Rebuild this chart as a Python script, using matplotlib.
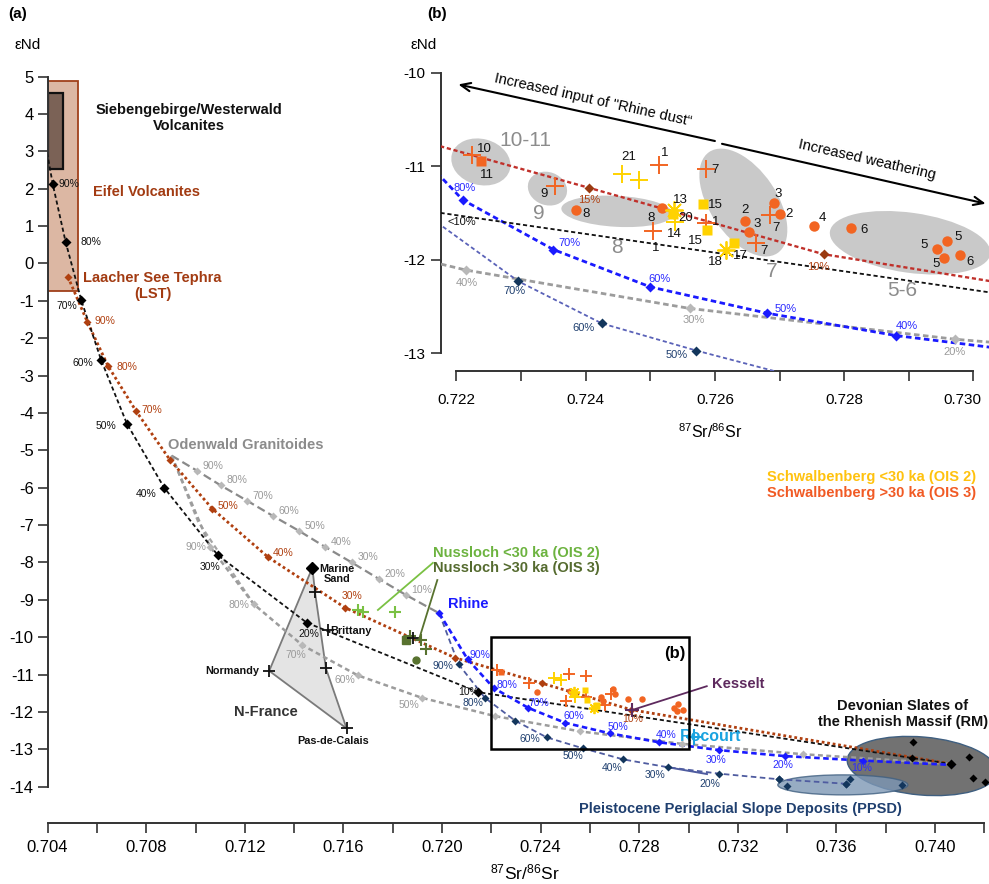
import matplotlib
matplotlib.use('Agg')
from matplotlib import pyplot as plt
from matplotlib.patches import Ellipse, Rectangle, Polygon
from matplotlib.transforms import IdentityTransform, ScaledTranslation
from matplotlib.ticker import MultipleLocator

plt.rcParams['font.family'] = ['Liberation Sans', 'DejaVu Sans']
plt.rcParams['mathtext.default'] = 'regular'
plt.rcParams['axes.unicode_minus'] = False
plt.rcParams['lines.scale_dashes'] = False
NARROW = ['Liberation Sans Narrow', 'Liberation Sans', 'DejaVu Sans']

# ---- mixing lines (end member -> end member, 10 % steps) ----
pct = ['', '90%', '80%', '70%', '60%', '50%', '40%', '30%', '20%', '10%', '']

# Siebengebirge -> RM
black_x = [0.70398, 0.70421, 0.70473, 0.70537, 0.70617, 0.70722, 0.70873,
           0.71090, 0.71451, 0.72147, 0.74066]
black_y = [2.96, 2.12, 0.58, -0.99, -2.58, -4.29, -6.00, -7.80, -9.61, -11.47, -13.39]
# LST -> RM
orange_x = [0.70482, 0.70561, 0.70645, 0.70759, 0.70897, 0.71068, 0.71295,
            0.71607, 0.72053, 0.72405, 0.72768, 0.74066]
orange_y = [-0.35, -1.56, -2.74, -3.95, -5.26, -6.56, -7.86, -9.21, -10.55,
            -11.23, -11.94, -13.39]
orange_pct = ['', '90%', '80%', '70%', '60%', '50%', '40%', '30%', '20%', '15%', '10%', '']
# Odenwald -> Rhine
grayA_x = [0.70903, 0.71005, 0.71103, 0.71210, 0.71313, 0.71419, 0.71525,
           0.71634, 0.71744, 0.71854, 0.71989]
grayA_y = [-5.14, -5.54, -5.94, -6.35, -6.75, -7.15, -7.58, -8.00, -8.44, -8.87, -9.36]
# Odenwald -> RM
grayB_x = [0.70903, 0.71059, 0.71237, 0.71433, 0.71658, 0.71918, 0.72215,
           0.72561, 0.72972, 0.73466, 0.74066]
grayB_y = [-5.14, -7.58, -9.12, -10.21, -11.02, -11.62, -12.11, -12.52, -12.85,
           -13.13, -13.39]
grayC_x = [0.70903, 0.71010, 0.71237]
grayC_y = [-5.14, -6.90, -9.12]
# Rhine -> RM
blue_x = [0.71989, 0.72104, 0.72210, 0.72350, 0.72500, 0.72680, 0.72880,
          0.73125, 0.73392, 0.73707, 0.74080]
blue_y = [-9.36, -10.59, -11.36, -11.89, -12.29, -12.57, -12.81, -13.02, -13.18,
          -13.30, -13.42]
# Rhine -> PPSD
navy_x = [0.71989, 0.72067, 0.72174, 0.72296, 0.72425, 0.72571, 0.72736,
          0.72918, 0.73125, 0.73366, 0.73639]
navy_y = [-9.36, -10.72, -11.62, -12.23, -12.68, -12.97, -13.27, -13.48, -13.65,
          -13.80, -13.92]
navy_pct = ['', '90%', '80%', '70%', '60%', '50%', '40%', '30%', '20%', '', '']

# ---- end members / source areas ----
rm_x = [0.73912, 0.73906, 0.74137, 0.74155, 0.74202]
rm_y = [-12.80, -13.24, -13.21, -13.77, -13.88]
ppsd_x = [0.73366, 0.73398, 0.73639, 0.73655, 0.73865]
ppsd_y = [-13.80, -13.97, -13.92, -13.80, -13.96]
nfrance_x = [0.71474, 0.71299, 0.71613, 0.71529, 0.71485]
nfrance_y = [-8.14, -10.90, -12.44, -10.83, -8.80]
nf_cross_x = [0.71485, 0.71536, 0.71299, 0.71529, 0.71613]
nf_cross_y = [-8.80, -9.81, -10.90, -10.83, -12.44]
kesselt = (0.72770, -11.95)
rocourt = (0.73022, -12.66)

# Nussloch loess
nus2_x = [0.71658, 0.71681, 0.71809]
nus2_y = [-9.27, -9.32, -9.32]
nus3_cross_x = [0.71870, 0.71914, 0.71935]
nus3_cross_y = [-9.97, -10.07, -10.32]
nus3_sq = (0.71854, -10.07)
nus3_dot = (0.71893, -10.61)
nus_black = (0.71884, -10.03)

# Schwalbenberg (OIS 3, orange) and (OIS 2, yellow)
o_cross_x = [0.72224, 0.72352, 0.72514, 0.72586, 0.72505, 0.72586, 0.72686, 0.72663]
o_cross_y = [-10.875, -11.214, -10.989, -11.032, -11.696, -11.607, -11.525, -11.821]
o_dot_x = [0.72385, 0.72518, 0.72647, 0.72653, 0.72692, 0.72700, 0.72754, 0.72810,
           0.72959, 0.72943, 0.72955, 0.72979]
o_dot_y = [-11.464, -11.446, -11.586, -11.700, -11.389, -11.507, -11.643, -11.661,
           -11.796, -11.882, -11.979, -11.954]
o_sq_x = [0.72238]
o_sq_y = [-10.943]
y_cross_x = [0.72456, 0.72482, 0.72538]
y_cross_y = [-11.086, -11.143, -11.596]
y_sq_x = [0.72582, 0.72588, 0.72535, 0.72629]
y_sq_y = [-11.407, -11.686, -11.507, -11.818]
y_star_x = [0.72536, 0.72617]
y_star_y = [-11.464, -11.900]

# sample numbers in (b)
num_txt = ['10', '11', '9', '8', '21', '1', '13', '20', '8', '14', '1', '15', '15', '1',
           '7', '18', '17', '2', '3', '3', '2', '7', '7', '4', '6', '5', '5', '5', '6']
num_x = [0.72243, 0.72248, 0.72335, 0.72400, 0.72467, 0.72523, 0.72547, 0.72555,
         0.72501, 0.72538, 0.72509, 0.72570, 0.72601, 0.72601, 0.72600, 0.72600,
         0.72639, 0.72646, 0.72665, 0.72698, 0.72714, 0.72695, 0.72676, 0.72766,
         0.72830, 0.72924, 0.72976, 0.72942, 0.72995]
num_y = [-10.811, -11.096, -11.300, -11.514, -10.900, -10.857, -11.364, -11.554,
         -11.550, -11.729, -11.871, -11.804, -11.411, -11.596, -11.043, -12.025,
         -11.964, -11.471, -11.614, -11.300, -11.507, -11.657, -11.907, -11.550,
         -11.679, -11.846, -11.757, -12.050, -12.025]

# grey groups in (b): label, centre, size/angle in pixels
grp_txt = ['10-11', '9', '8', '7', '5-6']
grp_x = [0.72307, 0.72328, 0.72448, 0.72688, 0.72889]
grp_y = [-10.72, -11.50, -11.867, -12.128, -12.324]
blob_x = [0.72238, 0.72341, 0.72449, 0.72644, 0.72902]
blob_y = [-10.954, -11.239, -11.482, -11.388, -11.818]
blob_w = [60, 40, 112, 122, 162]
blob_h = [46, 33, 31, 67, 60]
blob_a = [-15, -20, -3, -56, -8]

OR = '#f26522'
YE = '#ffd200'
BROWN = '#b04010'


def blob(ax, x, y, w, h, ang, **kw):
    tr = IdentityTransform() + ScaledTranslation(x, y, ax.transData)
    e = Ellipse((0, 0), w, h, angle=ang, transform=tr, **kw)
    ax.add_patch(e)
    return e


def mix(ax, xs, ys, names, color, dash, lw, mcolor, ms, marks, offs, tcolor, fs, z=3):
    ax.plot(xs, ys, color=color, ls=(0, dash), lw=lw, zorder=z)
    ax.plot([xs[i] for i in marks], [ys[i] for i in marks], ls='none', marker='D',
            ms=ms, color=mcolor, mec='none', zorder=z + 0.5)
    for i, (dx, dy) in offs.items():
        ax.annotate(names[i], (xs[i], ys[i]), xytext=(dx, dy), textcoords='offset pixels',
                    ha='center', va='center', fontsize=fs, color=tcolor, zorder=z + 1)


def samples(ax, big):
    k = 1.0 if big else 0.62
    z = 7
    ax.plot(o_dot_x, o_dot_y, 'o', color=OR, ms=7.5 * k, mec='none', zorder=z)
    ax.plot(o_sq_x, o_sq_y, 's', color=OR, ms=7.5 * k, mec='none', zorder=z)
    ax.plot(o_cross_x, o_cross_y, '+', color=OR, ms=13 * k, mew=1.4, zorder=z)
    ax.plot(y_sq_x, y_sq_y, 's', color=YE, ms=7.5 * k, mec='none', zorder=z)
    ax.plot(y_cross_x, y_cross_y, '+', color=YE, ms=13 * k, mew=1.4, zorder=z)
    ax.plot(y_star_x, y_star_y, marker=(8, 2, 0), ls='none', color=YE, ms=13 * k,
            mew=1.3, zorder=z)


fig = plt.figure(figsize=(9.89, 8.84), dpi=100)

# ================= (a) main diagram =================
ax = fig.add_axes([0.04813, 0.0690, 0.95187, 0.84434])
ax.set_xlim(0.704, 0.74219)
ax.set_ylim(-14.97, 5.0)
ax.set_facecolor('none')
for s in ('top', 'right'):
    ax.spines[s].set_visible(False)
for s in ('left', 'bottom'):
    ax.spines[s].set_linewidth(1.4)
    ax.spines[s].set_color('#333333')
ax.spines['left'].set_bounds(-14, 5)
ax.spines['bottom'].set_bounds(0.704, 0.742)
ax.set_yticks(range(-14, 6))
xt = [0.704 + 0.004 * i for i in range(10)]
ax.set_xticks(xt)
ax.set_xticklabels([f'{v:.3f}' for v in xt])
ax.xaxis.set_minor_locator(MultipleLocator(0.002))
ax.tick_params(which='both', direction='out', length=7, width=1.2, color='#333333')
ax.tick_params(axis='x', pad=5)
ax.tick_params(axis='y', pad=3)
for lab in ax.get_xticklabels() + ax.get_yticklabels():
    lab.set_fontfamily(NARROW)
    lab.set_fontsize(12)

# source boxes
ax.add_patch(Rectangle((0.704, -0.73), 0.00125, 5.60, fc='#dcb7a3', ec='#a0401a',
                       lw=1.3, zorder=1))
ax.add_patch(Rectangle((0.704, 2.52), 0.00064, 2.04, fc='#7b6256', ec='#111111',
                       lw=1.6, zorder=1.2))
ax.add_patch(Polygon(list(zip(nfrance_x, nfrance_y)), closed=True, fc='#e4e4e4',
                     ec='#7a7a7a', lw=1.3, zorder=1))
blob(ax, 0.73947, -13.445, 150, 58, -5, fc='#727272', ec='#3f5f80', lw=1.0,
     zorder=1.5, clip_on=False)
blob(ax, 0.73626, -13.95, 130, 20, 0, fc='#7d97b5', ec='#3f5f80', lw=1.0, alpha=0.8,
     zorder=1.6)

# mixing lines
ax.plot(grayC_x, grayC_y, color='#a5a5a5', ls=(0, (3.5, 2.5)), lw=1.6, zorder=2.8)
mix(ax, grayA_x, grayA_y, pct, '#8a8a8a', (6, 3), 1.6, '#b8b8b8', 4.5, range(1, 10),
    {i: (16, 5) for i in range(1, 10)}, '#9a9a9a', 7.5)
mix(ax, grayB_x, grayB_y, pct, '#9c9c9c', (3.5, 2.5), 1.8, '#b8b8b8', 4.5, range(1, 10),
    {1: (-14, 0), 2: (-15, -1), 3: (-6, -10), 4: (-13, -5), 5: (-13, -7)},
    '#9a9a9a', 7.5)
mix(ax, orange_x, orange_y, orange_pct, BROWN, (2, 2), 2.0, BROWN, 4.5, range(0, 11),
    {1: (18, 1), 2: (19, -1), 3: (16, 1), 5: (16, 3), 6: (15, 4), 7: (7, 12),
     10: (1, -9)}, BROWN, 7.5)
mix(ax, black_x, black_y, pct, '#111111', (3, 2), 1.3, '#000000', 5.5, range(1, 11),
    {1: (16, 0), 2: (25, 0), 3: (-15, -6), 4: (-18, -3), 5: (-21, -2), 6: (-18, -6),
     7: (-8, -12), 8: (2, -11), 9: (-10, 0)}, '#111111', 7.5)
mix(ax, navy_x, navy_y, navy_pct, '#4f5ca0', (4, 2.5), 1.3, '#13365c', 4.5, range(1, 11),
    {1: (-16, -2), 2: (-12, -5), 4: (-17, -2), 5: (-10, -8), 6: (-11, -9),
     7: (-13, -8), 8: (-9, -10)}, '#1f3f6f', 7.5)
ax.plot([navy_x[7], 0.73075], [navy_y[7], -13.66], color='#4f5ca0', lw=1.4, zorder=3)
mix(ax, blue_x, blue_y, pct, '#1a1aff', (4, 2.5), 1.9, '#1a1aff', 4.5, range(0, 10),
    {1: (12, 4), 2: (13, 3), 3: (11, 5), 4: (9, 7), 5: (8, 6), 6: (7, 7),
     7: (-3, -10), 8: (-2, -9), 9: (-1, -7)}, '#2a2aff', 7.5)
ax.plot(ppsd_x, ppsd_y, 'D', color='#13365c', ms=4.5, mec='none', zorder=4)
ax.plot(rm_x, rm_y, 'D', color='black', ms=4.5, mec='none', zorder=4, clip_on=False)

# N-France and loess samples
ax.plot(nfrance_x[0], nfrance_y[0], 'D', color='black', ms=6, zorder=5)
ax.plot(nf_cross_x, nf_cross_y, '+', color='#111111', ms=9, mew=1.3, zorder=5)
ax.plot(nus2_x, nus2_y, '+', color='#7ac143', ms=9, mew=1.5, zorder=5)
ax.plot(nus3_cross_x, nus3_cross_y, '+', color='#58722f', ms=9, mew=1.5, zorder=5)
ax.plot(*nus3_sq, 's', color='#58722f', ms=6, zorder=5)
ax.plot(*nus3_dot, 'o', color='#58722f', ms=5, zorder=5)
ax.plot(*nus_black, '+', color='#111111', ms=9, mew=1.3, zorder=5)
ax.plot([0.71740, 0.71963], [-9.27, -8.01], color='#7ac143', lw=1.3, zorder=5)
ax.plot([0.71981, 0.71908], [-8.47, -10.03], color='#58722f', lw=1.3, zorder=5)
ax.plot(*kesselt, '+', color='#5e2a5e', ms=10, mew=1.5, zorder=6)
ax.plot([kesselt[0], 0.73074], [kesselt[1], -11.31], color='#5e2a5e', lw=1.3, zorder=6)
ax.plot(*rocourt, '+', color='#1aa3e0', ms=11, mew=1.5, zorder=6)
samples(ax, False)
ax.add_patch(Rectangle((0.722, -13.0), 0.008, 3.0, fill=False, ec='black', lw=1.8,
                       zorder=6))

bold = dict(fontweight='bold', fontsize=10.5)
ax.text(0.70974, 3.90, 'Siebengebirge/Westerwald\nVolcanites', ha='center', va='center',
        color='#111111', **bold)
ax.text(0.70583, 1.92, 'Eifel Volcanites', ha='left', va='center', color='#a23b12', **bold)
ax.text(0.70826, -0.595, 'Laacher See Tephra\n(LST)', ha='center', va='center',
        color='#a23b12', **bold)
ax.text(0.70889, -4.86, 'Odenwald Granitoides', ha='left', va='center', color='#8c8c8c',
        **bold)
small = dict(fontweight='bold', fontsize=7.8, color='#111111', va='center')
ax.text(0.71574, -8.31, 'Marine\nSand', ha='center', linespacing=0.95, **small)
ax.text(0.71546, -9.82, 'Brittany', ha='left', **small)
ax.text(0.71258, -10.90, 'Normandy', ha='right', **small)
ax.text(0.71557, -12.78, 'Pas-de-Calais', ha='center', **small)
ax.text(0.71287, -11.99, 'N-France', ha='center', va='center', color='#333333', **bold)
ax.text(0.71964, -7.75, 'Nussloch <30 ka (OIS 2)', ha='left', va='center',
        color='#6cb33f', **bold)
ax.text(0.71964, -8.155, 'Nussloch >30 ka (OIS 3)', ha='left', va='center',
        color='#556b2f', **bold)
ax.text(0.72024, -9.12, 'Rhine', ha='left', va='center', color='#1a1aff', **bold)
ax.text(0.72946, -10.43, '(b)', ha='center', va='center', fontweight='bold', fontsize=12)
ax.text(0.73097, -11.25, 'Kesselt', ha='left', va='center', color='#5e2a5e', **bold)
ax.text(0.72965, -12.66, 'Rocourt', ha='left', va='center', color='#1aa3e0',
        fontsize=11.5, fontweight='bold')
ax.text(0.73870, -12.05, 'Devonian Slates of\nthe Rhenish Massif (RM)', ha='center',
        va='center', color='#111111', **bold)
ax.text(0.73209, -14.60, 'Pleistocene Periglacial Slope Deposits (PPSD)', ha='center',
        va='center', color='#1f3f6f', **bold)

# ================= (b) inset =================
ax2 = fig.add_axes([0.4457, 0.58032, 0.5543, 0.36312])
ax2.set_xlim(0.72176, 0.73024)
ax2.set_ylim(-13.189, -9.757)
ax2.set_facecolor('none')
for s in ('top', 'right'):
    ax2.spines[s].set_visible(False)
for s in ('left', 'bottom'):
    ax2.spines[s].set_linewidth(1.4)
    ax2.spines[s].set_color('#333333')
ax2.spines['left'].set_bounds(-13, -10)
ax2.spines['bottom'].set_bounds(0.722, 0.730)
ax2.set_yticks([-13, -12, -11, -10])
ax2.set_yticklabels(['-13', '-12', '-11', '-10'])
xt2 = [0.722, 0.724, 0.726, 0.728, 0.730]
ax2.set_xticks(xt2)
ax2.set_xticklabels([f'{v:.3f}' for v in xt2])
ax2.xaxis.set_minor_locator(MultipleLocator(0.001))
ax2.tick_params(which='both', direction='out', length=7.5, width=1.2, color='#333333',
                labelsize=11)
ax2.tick_params(axis='x', pad=8)
# last label sits a little left of its tick so it stays inside the figure
last = ax2.get_xticklabels()[-1]
last.set_transform(last.get_transform() + ScaledTranslation(-8 / 72, 0,
                                                            fig.dpi_scale_trans))

for i in range(len(blob_x)):
    blob(ax2, blob_x[i], blob_y[i], blob_w[i], blob_h[i], blob_a[i], fc='#c9c9c9',
         ec='none', zorder=1, clip_on=False)
    ax2.text(grp_x[i], grp_y[i], grp_txt[i], ha='center', va='center', fontsize=15,
             color='#8c8c8c', zorder=1.5)

mix(ax2, grayB_x, grayB_y, pct, '#9c9c9c', (4, 2.5), 2.0, '#b8b8b8', 5, [6, 7, 8],
    {6: (1, -13), 7: (4, -12), 8: (-1, -13)}, '#9a9a9a', 8)
mix(ax2, navy_x, navy_y, navy_pct, '#5a62b8', (3, 2), 1.3, '#13365c', 5, [3, 4, 5, 6],
    {3: (-4, -10), 4: (-18, -5), 5: (-19, -4)}, '#1f3f6f', 8)
mix(ax2, blue_x, blue_y, pct, '#1a1aff', (4, 2.5), 2.0, '#1a1aff', 5, [2, 3, 4, 5, 6],
    {2: (2, 12), 3: (16, 7), 4: (9, 8), 5: (19, 4), 6: (11, 10)}, '#2a2aff', 8)
mix(ax2, black_x, black_y, pct, '#111111', (3, 2), 1.3, 'black', 5, [], {}, 'black', 8)
mix(ax2, orange_x, orange_y, orange_pct, '#c0302a', (3, 2), 1.7, '#9a3a10', 5, [9, 10],
    {9: (0, -12), 10: (-5, -13)}, BROWN, 8)
ax2.text(0.72208, -11.596, '<10%', ha='center', va='center', fontsize=8, color='#111111')

samples(ax2, True)
for t, x, y in zip(num_txt, num_x, num_y):
    ax2.text(x, y, t, ha='center', va='center', fontsize=9.5, color='#111111', zorder=8)

arrow = dict(arrowstyle='->,head_length=0.7,head_width=0.3', color='black', lw=1.5,
             shrinkA=0, shrinkB=0)
ax2.annotate('', xy=(0.72203, -10.125), xytext=(0.72600, -10.73), arrowprops=arrow,
             annotation_clip=False)
ax2.annotate('', xy=(0.73019, -11.40), xytext=(0.72611, -10.76), arrowprops=arrow,
             annotation_clip=False)
ax2.text(0.72411, -10.29, 'Increased input of "Rhine dust\u201c', rotation=-12.5,
         ha='center', va='center', fontsize=10.5, rotation_mode='anchor')
ax2.text(0.72836, -10.934, 'Increased weathering', rotation=-12.8, ha='center',
         va='center', fontsize=10.5, rotation_mode='anchor')

# ================= figure texts =================
fig.text(0.0182, 0.984, '(a)', ha='center', va='center', fontweight='bold', fontsize=11)
fig.text(0.4419, 0.984, '(b)', ha='center', va='center', fontweight='bold', fontsize=11)
fig.text(0.0283, 0.949, '\u03b5Nd', ha='center', va='center', fontsize=11)
fig.text(0.4287, 0.949, '\u03b5Nd', ha='center', va='center', fontsize=11)
fig.text(0.531, 0.013, r'$^{87}$Sr/$^{86}$Sr', ha='center', va='center', fontsize=12.5,
         family=NARROW)
fig.text(0.7179, 0.5113, r'$^{87}$Sr/$^{86}$Sr', ha='center', va='center', fontsize=11.5)
fig.text(0.7755, 1 - 477 / 884, 'Schwalbenberg <30 ka (OIS 2)', ha='left', va='center',
         color='#ffc20e', **bold)
fig.text(0.7755, 1 - 493 / 884, 'Schwalbenberg >30 ka (OIS 3)', ha='left', va='center',
         color='#f15a24', **bold)

fig.savefig('out.png', dpi=100)
